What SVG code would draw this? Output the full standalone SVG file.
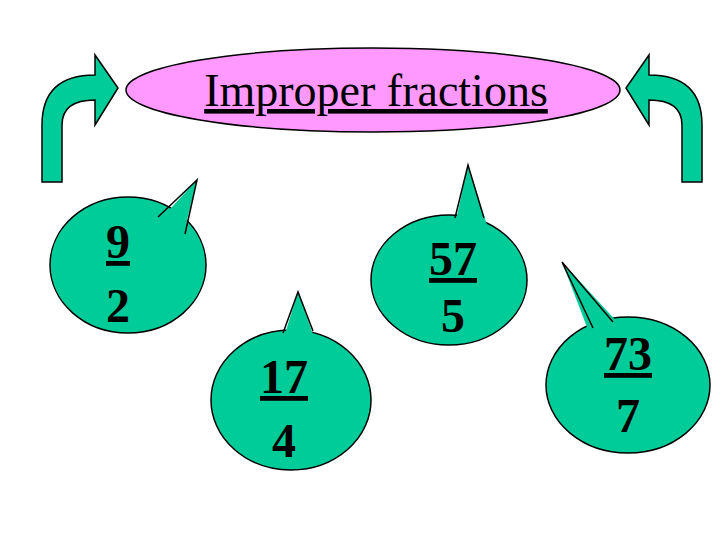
<svg xmlns="http://www.w3.org/2000/svg" width="728" height="546" viewBox="0 0 728 546">
<style>
.arr{fill:#00cc99;stroke:#000;stroke-width:1.5}
.b{fill:#00cc99;stroke:#000;stroke-width:1.5}
.t{fill:#00cc99;stroke:none}
.ts{fill:none;stroke:#000;stroke-width:1.5}
.n{font-family:"Liberation Serif",serif;font-weight:bold;font-size:48px;text-anchor:middle;fill:#000}
</style>
<rect width="728" height="546" fill="#fff"/>
<g id="title">
<ellipse cx="373" cy="90" rx="247" ry="42" fill="#ff99ff" stroke="#000" stroke-width="1.5"/>
<text x="376" y="106" font-family="Liberation Serif,serif" font-size="46" text-anchor="middle" text-decoration="underline">Improper fractions</text>
</g>
<g id="connectors">
<path class="arr" d="M42,182 L42,125 Q42,75 95,75 L95,55 L118,88 L95,125 L95,100 Q62,100 62,125 L62,182 Z"/>
<path class="arr" d="M702,182 L702,125 Q702,75 649,75 L649,55 L626,88 L649,125 L649,100 Q682,100 682,125 L682,182 Z"/>
</g>
<g id="b1">
<ellipse class="b" cx="128" cy="265" rx="78" ry="68"/>
<path class="t" d="M155,225 L197,180 L182,240 Z"/>
<polyline class="ts" points="158,217 197,180 185,234"/>
<text class="n" x="118" y="258" text-decoration="underline">9</text>
<text class="n" x="118" y="322">2</text>
</g>
<g id="b2">
<ellipse class="b" cx="291" cy="400" rx="80" ry="70"/>
<path class="t" d="M283,340 L298,292 L315,340 Z"/>
<polyline class="ts" points="283,333 298,292 313,331"/>
<text class="n" x="284" y="393" text-decoration="underline">17</text>
<text class="n" x="284" y="457">4</text>
</g>
<g id="b3">
<ellipse class="b" cx="449" cy="280" rx="78" ry="65"/>
<path class="t" d="M455,225 L468,165 L487,225 Z"/>
<polyline class="ts" points="455,218 468,165 484,218"/>
<text class="n" x="453" y="275" text-decoration="underline">57</text>
<text class="n" x="453" y="332">5</text>
</g>
<g id="b4">
<ellipse class="b" cx="628" cy="385" rx="82" ry="68"/>
<path class="t" d="M590,335 L562,262 L620,325 Z"/>
<polyline class="ts" points="593,328 562,262 613,322"/>
<text class="n" x="628" y="370" text-decoration="underline">73</text>
<text class="n" x="628" y="432">7</text>
</g>
</svg>
